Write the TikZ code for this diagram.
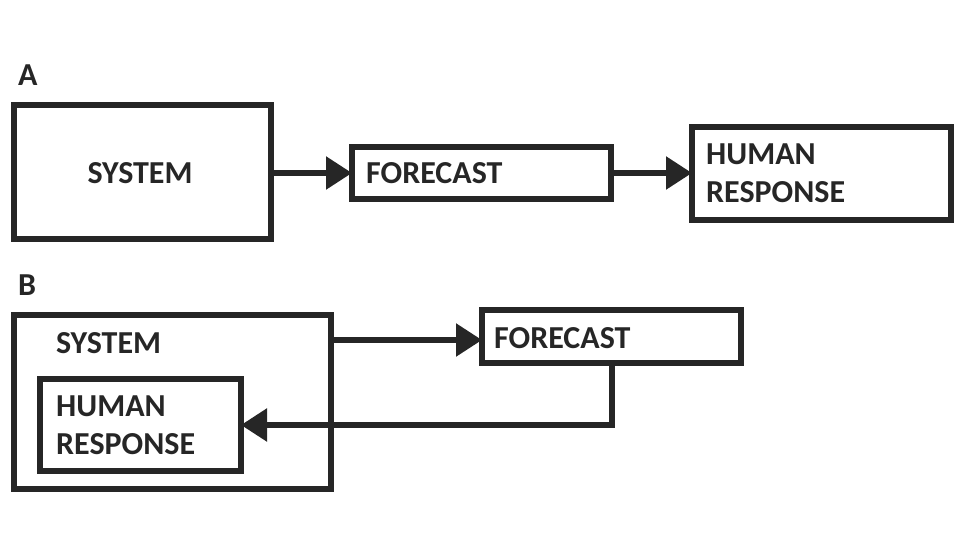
\documentclass[tikz,border=0pt]{standalone}
\usepackage{fontspec}
\setmainfont{Carlito}
\usetikzlibrary{arrows.meta}
\begin{document}
\begin{tikzpicture}[x=1pt,y=-1pt,
  bx/.style={draw=black!85,line width=5.5pt},
  lb/.style={font=\bfseries\fontsize{32}{38}\selectfont,text=black!85,anchor=west,align=left,inner sep=0pt},
  ar/.style={line width=5.5pt,draw=black!85,-{Triangle[length=26pt,width=32pt]}}]
\useasboundingbox (0,0) rectangle (963,551);
\node[lb] (la) at (18,75) {A};
\draw[bx] (14,105) rectangle (271,239); \coordinate (s1) at (271,173);
\node[lb,anchor=center] (ts) at (140,173) {SYSTEM};
\draw[bx] (352,147) rectangle (611,199); \coordinate (f1l) at (352,173); \coordinate (f1r) at (611,173);
\node[lb] (tf) at (366,173) {FORECAST};
\draw[bx] (692,127) rectangle (951,220); \coordinate (h1) at (692,173);
\node[lb] (th) at (706,173) {HUMAN\\RESPONSE};
\draw[ar] (s1) -- (f1l);
\draw[ar] (f1r) -- (h1);
\node[lb] (lb2) at (18,285) {B};
\draw[bx] (14,315) rectangle (331,489); \coordinate (s2) at (331,340);
\node[lb] (ts2) at (56,343) {SYSTEM};
\draw[bx] (40,379) rectangle (241,471); \coordinate (h2) at (241,425);
\node[lb] (th2) at (56,425) {HUMAN\\RESPONSE};
\draw[bx] (482,310) rectangle (741,363); \coordinate (f2l) at (482,340); \coordinate (f2b) at (612,363);
\node[lb] (tf2) at (494,338) {FORECAST};
\draw[ar] (s2) -- (f2l);
\draw[ar] (f2b) |- (h2);
\end{tikzpicture}
\end{document}
